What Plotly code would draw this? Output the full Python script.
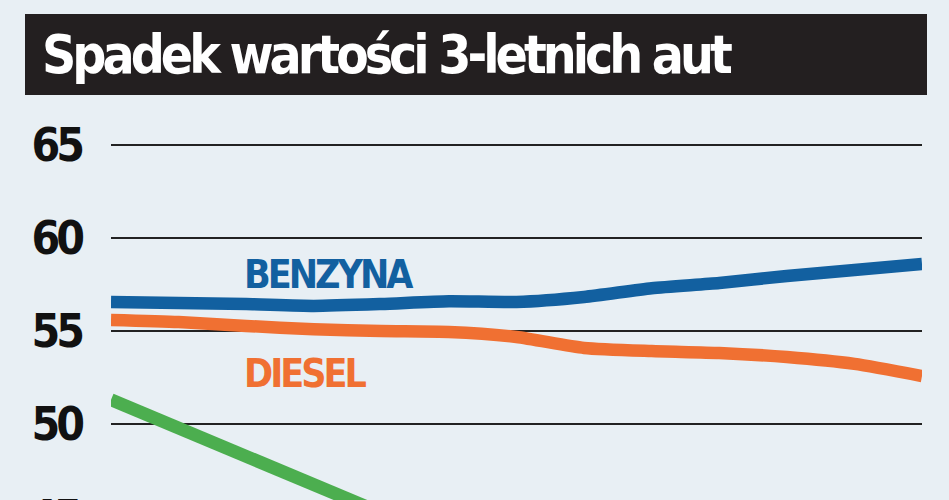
import plotly.graph_objects as go

# ---- data ----
periods = list(range(13))
benzyna = [56.56, 56.5, 56.45, 56.35, 56.45, 56.6, 56.56, 56.83, 57.3, 57.58, 57.96, 58.28, 58.6]
diesel = [55.59, 55.48, 55.27, 55.1, 55.0, 54.95, 54.68, 54.09, 53.92, 53.82, 53.6, 53.23, 52.58]
elektryk_periods = [0, 1, 2, 3, 4, 5]
elektryk = [51.3, 49.78, 48.27, 46.75, 45.24, 43.7]
y_ticks = [50, 55, 60, 65]
y_hidden_tick = 45
title_text = "Spadek wartości 3-letnich aut"

BG = "#e8eff4"
BLUE = "#1260a0"
ORANGE = "#f07032"
GREEN = "#4cae4f"
Y_LO, Y_HI = 45.914, 67.419

W, H = 949, 500
ML, MR, MT, MB = 111, 27, 100, 0
NARROW = "DejaVu Sans Condensed, Liberation Sans Narrow, sans-serif"


def squeeze(s, px):
    return f'<span style="letter-spacing:{px}px">{s}</span>'


fig = go.Figure()
fig.add_trace(go.Scatter(x=elektryk_periods, y=elektryk, mode="lines",
                         line=dict(color=GREEN, width=13), hoverinfo="skip"))
fig.add_trace(go.Scatter(x=periods, y=diesel, mode="lines",
                         line=dict(color=ORANGE, width=12.5, shape="spline", smoothing=0.6), hoverinfo="skip"))
fig.add_trace(go.Scatter(x=periods, y=benzyna, mode="lines",
                         line=dict(color=BLUE, width=12.5, shape="spline", smoothing=0.6), hoverinfo="skip"))

pw = W - ML - MR
ph = H - MT - MB


def px_x(p):
    return (p - ML) / pw


def px_y(p):
    return (H - MB - p) / ph


fig.update_layout(
    width=W, height=H,
    margin=dict(l=ML, r=MR, t=MT, b=MB),
    paper_bgcolor=BG, plot_bgcolor=BG,
    showlegend=False,
    xaxis=dict(range=[periods[0], periods[-1]], visible=False, showgrid=False, zeroline=False),
    yaxis=dict(range=[Y_LO, Y_HI], tickvals=y_ticks, ticktext=[squeeze(str(v), -4) for v in y_ticks],
               showgrid=True, gridcolor="#222222", gridwidth=2.2, zeroline=False,
               showline=False, ticks="", ticklabelstandoff=29,
               tickfont=dict(family=NARROW, size=46, color="#111111", weight="bold")),
    shapes=[dict(type="rect", xref="paper", yref="paper",
                 x0=px_x(25), x1=px_x(927), y0=px_y(95), y1=px_y(14),
                 fillcolor="#231f20", line=dict(width=0), layer="above")],
    annotations=[
        dict(text=squeeze(title_text, -4), xref="paper", yref="paper", x=px_x(40), y=px_y(54),
             xanchor="left", yanchor="middle", showarrow=False,
             font=dict(family=NARROW, size=53, color="white", weight="bold")),
        dict(text=squeeze("BENZYNA", -3), xref="x", yref="y", x=1.94, y=58.06,
             xanchor="left", yanchor="middle", showarrow=False,
             font=dict(family=NARROW, size=39, color=BLUE, weight="bold")),
        dict(text=squeeze("DIESEL", -3), xref="x", yref="y", x=1.94, y=52.74,
             xanchor="left", yanchor="middle", showarrow=False,
             font=dict(family=NARROW, size=39, color=ORANGE, weight="bold")),
        dict(text=squeeze(str(y_hidden_tick), -4), xref="paper", yref="paper", x=px_x(82),
             y=(y_hidden_tick - Y_LO) / (Y_HI - Y_LO),
             xanchor="right", yanchor="middle", showarrow=False,
             font=dict(family=NARROW, size=46, color="#111111", weight="bold")),
    ],
)

fig.write_html("out.html")
